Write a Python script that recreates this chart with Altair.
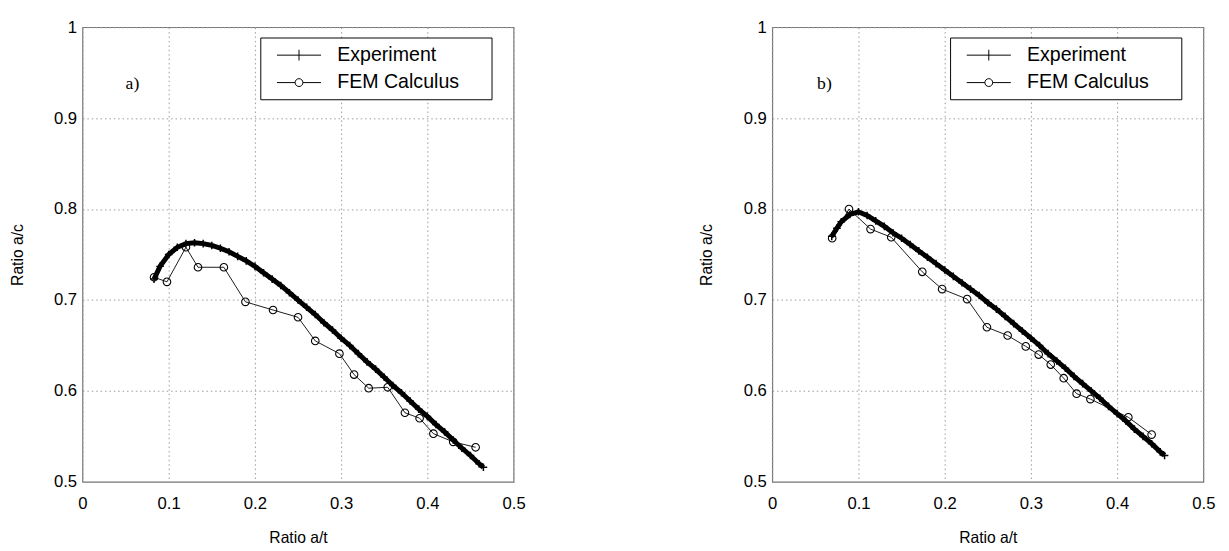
import altair as alt
import pandas as pd

# ---------------- data ----------------
# panel a) Experiment (dense '+' curve)
exp_a_x = [0.083, 0.09, 0.10, 0.11, 0.12, 0.13, 0.14, 0.15, 0.16, 0.17, 0.18, 0.19, 0.20,
           0.21, 0.22, 0.23, 0.24, 0.25, 0.26, 0.27, 0.28, 0.29, 0.30, 0.31, 0.32, 0.33,
           0.34, 0.35, 0.36, 0.37, 0.38, 0.39, 0.40, 0.41, 0.42, 0.43, 0.44, 0.45, 0.46, 0.465]
exp_a_y = [0.723, 0.737, 0.750, 0.758, 0.762, 0.763, 0.762, 0.760, 0.757, 0.753, 0.748, 0.743, 0.737,
           0.730, 0.723, 0.716, 0.708, 0.700, 0.692, 0.684, 0.675, 0.667, 0.658, 0.650, 0.641, 0.632,
           0.624, 0.615, 0.606, 0.598, 0.589, 0.580, 0.572, 0.563, 0.555, 0.546, 0.537, 0.529, 0.520, 0.516]
# panel a) FEM Calculus (circles)
fem_a_x = [0.083, 0.098, 0.120, 0.134, 0.164, 0.189, 0.221, 0.250, 0.270, 0.298, 0.315, 0.332,
           0.354, 0.374, 0.391, 0.407, 0.430, 0.456]
fem_a_y = [0.725, 0.720, 0.758, 0.736, 0.736, 0.698, 0.689, 0.681, 0.655, 0.641, 0.618, 0.603,
           0.604, 0.576, 0.570, 0.553, 0.544, 0.538]

# panel b) Experiment
exp_b_x = [0.069, 0.075, 0.08, 0.09, 0.10, 0.11, 0.12, 0.13, 0.14, 0.15, 0.16, 0.17, 0.18, 0.19,
           0.20, 0.21, 0.22, 0.23, 0.24, 0.25, 0.26, 0.27, 0.28, 0.29, 0.30, 0.31, 0.32, 0.33,
           0.34, 0.35, 0.36, 0.37, 0.38, 0.39, 0.40, 0.41, 0.42, 0.43, 0.44, 0.45, 0.455]
exp_b_y = [0.770, 0.779, 0.786, 0.794, 0.797, 0.793, 0.787, 0.781, 0.774, 0.768, 0.761, 0.754, 0.747, 0.740,
           0.733, 0.726, 0.719, 0.712, 0.705, 0.697, 0.690, 0.682, 0.674, 0.666, 0.658, 0.650, 0.641, 0.633,
           0.625, 0.616, 0.608, 0.600, 0.592, 0.583, 0.575, 0.567, 0.558, 0.550, 0.542, 0.533, 0.529]
# panel b) FEM Calculus
fem_b_x = [0.0695, 0.089, 0.114, 0.138, 0.174, 0.197, 0.226, 0.249, 0.273, 0.294, 0.309, 0.323,
           0.338, 0.353, 0.369, 0.413, 0.440]
fem_b_y = [0.768, 0.800, 0.778, 0.769, 0.731, 0.712, 0.701, 0.670, 0.661, 0.649, 0.640, 0.629,
           0.614, 0.597, 0.591, 0.571, 0.552]

series_names = ["Experiment", "FEM Calculus"]
x_ticks = [0, 0.1, 0.2, 0.3, 0.4, 0.5]
y_ticks = [0.5, 0.6, 0.7, 0.8, 0.9, 1.0]
panel_tags = ["a)", "b)"]
tag_x = [0.050, 0.052]
tag_y = [0.937, 0.937]

# ---------------- styling ----------------
SANS = "Liberation Sans"
PLUS_MARK = "M-1,0H1M0,-1V1"
PLUS_LEG = "M-2.25,0H2.25M0,-0.55V0.55"
CIRC_LEG = ("M-2.25,0H-0.4M0.4,0H2.25M-0.4,0A0.4,0.4 0 1,1 0.4,0"
            "A0.4,0.4 0 1,1 -0.4,0")

W, H = 440, 464


def panel(ex, ey, fx, fy, tag, tx, ty):
    exp = pd.DataFrame({"x": ex, "y": ey, "series": "Experiment"})
    fem = pd.DataFrame({"x": fx, "y": fy, "series": "FEM Calculus"})
    both = pd.concat([exp, fem], ignore_index=True)

    xenc = alt.X("x:Q",
                 scale=alt.Scale(domain=[0, 0.5], nice=False, zero=False),
                 axis=alt.Axis(values=x_ticks, format=".1~f", title="Ratio a/t",
                               labelPadding=14, titlePadding=19, labelFlush=False))
    yenc = alt.Y("y:Q",
                 scale=alt.Scale(domain=[0.5, 1.0], nice=False, zero=False),
                 axis=alt.Axis(values=y_ticks, format=".1~f", title="Ratio a/c",
                               labelPadding=6, titlePadding=29, labelFlush=False))

    exp_line = alt.Chart(exp).mark_line(color="black", strokeWidth=5).encode(
        x=xenc, y=yenc, order="x:Q")
    exp_pts = alt.Chart(exp).mark_point(shape=PLUS_MARK, size=60, color="black",
                                        strokeWidth=1.5, filled=False, opacity=1).encode(
        x="x:Q", y="y:Q")
    fem_line = alt.Chart(fem).mark_line(color="black", strokeWidth=0.9).encode(
        x="x:Q", y="y:Q", order="x:Q")
    fem_pts = alt.Chart(fem).mark_point(shape="circle", size=60, color="black",
                                        strokeWidth=1.1, filled=False, opacity=1).encode(
        x="x:Q", y="y:Q")
    box = alt.Chart(pd.DataFrame({"k": [0]})).mark_rect(
        fill="white", stroke="black", strokeWidth=1).encode(
        x=alt.value(182), x2=alt.value(418), y=alt.value(11), y2=alt.value(74))
    leg = alt.Chart(both).mark_point(opacity=0, filled=False, color="black").encode(
        x="x:Q", y="y:Q",
        shape=alt.Shape("series:N",
                        scale=alt.Scale(domain=series_names, range=[PLUS_LEG, CIRC_LEG]),
                        legend=alt.Legend(orient="none", legendX=210.5, legendY=18,
                                          title=None, symbolSize=400,
                                          symbolOpacity=1, symbolStrokeColor="black",
                                          symbolFillColor="transparent",
                                          symbolStrokeWidth=1,
                                          labelFont=SANS, labelFontSize=20,
                                          labelColor="black", labelOffset=28.5,
                                          rowPadding=7, padding=0)))
    txt = alt.Chart(pd.DataFrame({"x": [tx], "y": [ty], "t": [tag]})).mark_text(
        font="Liberation Serif", fontSize=18, align="left", baseline="middle",
        color="black").encode(x="x:Q", y="y:Q", text="t:N")

    return alt.layer(exp_line, exp_pts, fem_line, fem_pts, box, leg, txt).properties(
        width=W, height=H)


pa = panel(exp_a_x, exp_a_y, fem_a_x, fem_a_y, panel_tags[0], tag_x[0], tag_y[0])
pb = panel(exp_b_x, exp_b_y, fem_b_x, fem_b_y, panel_tags[1], tag_x[1], tag_y[1])

chart = alt.hconcat(pa, pb, spacing=175).resolve_scale(shape="independent").resolve_legend(
    shape="independent").properties(
    padding={"left": 0, "top": 4, "right": 5, "bottom": 2},
    background="white",
).configure_view(stroke="#777", strokeWidth=1.2).configure_axis(
    labelFont=SANS, labelFontSize=17, labelColor="black",
    titleFont=SANS, titleFontSize=16, titleFontWeight="normal", titleColor="black",
    grid=True, gridColor="#999", gridDash=[1.5, 3], gridWidth=1,
    ticks=False, domain=False,
)

chart.save("out.html", embed_options={"renderer": "svg", "actions": False})
